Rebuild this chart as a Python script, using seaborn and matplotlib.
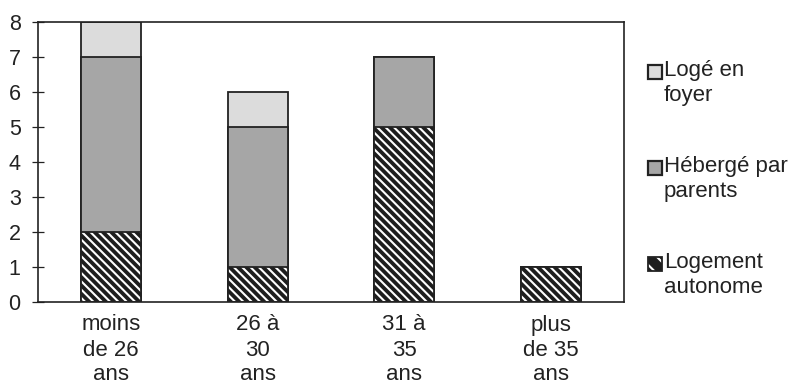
import numpy as np
import pandas as pd
import seaborn as sns
import matplotlib.pyplot as plt
from matplotlib.patches import Rectangle

categories = ["moins\nde 26\nans", "26 à\n30\nans", "31 à\n35\nans", "plus\nde 35\nans"]
logement_autonome = [2, 1, 5, 1]
heberge_parents = [5, 4, 2, 0]
loge_foyer = [1, 1, 0, 0]
legend_labels = ["Logé en\nfoyer", "Hébergé par\nparents", "Logement\nautonome"]

sns.set_style("white")
plt.rcParams["font.family"] = ["Liberation Sans", "DejaVu Sans"]
plt.rcParams["hatch.linewidth"] = 1.5

df = pd.DataFrame({
    "cat": categories,
    "autonome": logement_autonome,
    "parents": heberge_parents,
    "foyer": loge_foyer,
})
df["lvl2"] = df["autonome"] + df["parents"]
df["total"] = df["lvl2"] + df["foyer"]

c_foyer = "#dcdcdc"
c_parents = "#a6a6a6"
c_auto = "#1e1e1e"
ink = "#222222"
hatch = "\\\\\\\\"

fig = plt.figure(figsize=(7.99, 3.91), dpi=100)
ax = fig.add_axes([38 / 799, 1 - 302 / 391, (624 - 38) / 799, (302 - 22) / 391])

w = 0.41
sns.barplot(data=df, x="cat", y="total", color=c_foyer, saturation=1, width=w,
            edgecolor=ink, linewidth=1.3, ax=ax)
sns.barplot(data=df, x="cat", y="lvl2", color=c_parents, saturation=1, width=w,
            edgecolor=ink, linewidth=1.3, ax=ax)
sns.barplot(data=df, x="cat", y="autonome", color=c_auto, saturation=1, width=w,
            edgecolor="white", linewidth=0, hatch=hatch, ax=ax)
sns.barplot(data=df, x="cat", y="autonome", width=w, fill=False,
            edgecolor=ink, linewidth=1.3, ax=ax)

ax.set_xlim(-0.5, 3.5)
ax.set_ylim(0, 8)
ax.set_yticks(range(0, 9))
ax.set_xlabel("")
ax.set_ylabel("")
ax.set_xticks(np.arange(-0.5, 4, 1), minor=True)
ax.tick_params(axis="x", which="major", length=0, pad=9, labelsize=16, labelcolor=ink)
ax.tick_params(axis="x", which="minor", direction="inout", length=8, width=0.9, color=ink)
ax.tick_params(axis="y", direction="inout", length=9, width=0.9, color=ink,
               pad=8, labelsize=15.5, labelcolor=ink, left=True)
for lab in ax.get_xticklabels():
    lab.set_linespacing(1.25)
for s in ax.spines.values():
    s.set_visible(True)
    s.set_color(ink)
    s.set_linewidth(1.2)

# legend drawn by hand so that the box lines up with the first text line
legend_colors = [c_foyer, c_parents, c_auto]
tops = [65, 161, 257]
for lab, col, top in zip(legend_labels, legend_colors, tops):
    x0, y0 = 648 / 799, 1 - (top + 14) / 391
    rw, rh = 14 / 799, 14 / 391
    if col == c_auto:
        fig.add_artist(Rectangle((x0, y0), rw, rh, transform=fig.transFigure,
                                 facecolor=col, edgecolor="white", linewidth=0,
                                 hatch="\\\\"))
        fig.add_artist(Rectangle((x0, y0), rw, rh, transform=fig.transFigure,
                                 fill=False, edgecolor=ink, linewidth=1.3))
    else:
        fig.add_artist(Rectangle((x0, y0), rw, rh, transform=fig.transFigure,
                                 facecolor=col, edgecolor=ink, linewidth=1.6))
    fig.text(664 / 799, 1 - (top - 5) / 391, lab, ha="left", va="top",
             fontsize=16, color=ink, linespacing=1.22)

fig.savefig("out.png", dpi=100)
